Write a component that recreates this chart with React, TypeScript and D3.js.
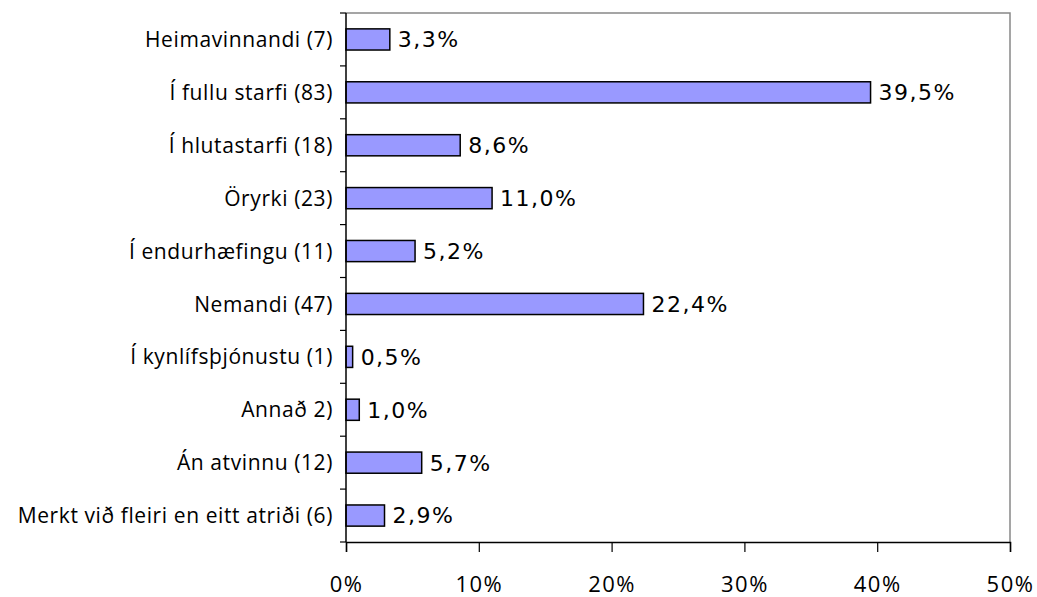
import React, { useEffect, useRef } from 'react'
import * as d3 from 'd3'

const categories = [
  'Heimavinnandi (7)',
  'Í fullu starfi (83)',
  'Í hlutastarfi (18)',
  'Öryrki (23)',
  'Í endurhæfingu (11)',
  'Nemandi (47)',
  'Í kynlífsþjónustu (1)',
  'Annað 2)',
  'Án atvinnu (12)',
  'Merkt við fleiri en eitt atriði (6)',
]
const percentages = [3.3, 39.5, 8.6, 11.0, 5.2, 22.4, 0.5, 1.0, 5.7, 2.9]
const xTicks = [0, 10, 20, 30, 40, 50]

const App: React.FC = () => {
  const svgRef = useRef<SVGSVGElement>(null)

  useEffect(() => {
    if (!svgRef.current) return
    const width = 1037
    const height = 597
    const margin = { top: 13, right: 27, bottom: 55, left: 346 }
    const chartWidth = width - margin.left - margin.right
    const chartHeight = height - margin.top - margin.bottom

    const svg = d3.select(svgRef.current).attr('width', width).attr('height', height)
    svg.selectAll('*').remove()

    const g = svg.append('g').attr('transform', `translate(${margin.left},${margin.top})`)

    const xScale = d3.scaleLinear().domain([0, 50]).range([0, chartWidth])
    const yScale = d3.scaleBand().domain(categories).range([0, chartHeight]).paddingInner(0.6).paddingOuter(0.3)

    // plot frame (top + right in gray)
    g.append('path')
      .attr('d', `M0,0H${chartWidth}V${chartHeight}`)
      .attr('fill', 'none')
      .attr('stroke', '#888')
      .attr('stroke-width', 1.5)

    // bars
    g.selectAll('rect.bar')
      .data(percentages)
      .enter()
      .append('rect')
      .attr('class', 'bar')
      .attr('x', 0)
      .attr('y', (_d, i) => yScale(categories[i]) || 0)
      .attr('width', (d) => xScale(d))
      .attr('height', yScale.bandwidth())
      .attr('fill', '#9999FF')
      .attr('stroke', '#000')
      .attr('stroke-width', 1.5)

    // value labels
    g.selectAll('text.val')
      .data(percentages)
      .enter()
      .append('text')
      .attr('class', 'val')
      .attr('x', (d) => xScale(d) + 8)
      .attr('y', (_d, i) => (yScale(categories[i]) || 0) + yScale.bandwidth() / 2)
      .attr('dy', '0.36em')
      .attr('font-family', 'DejaVu Sans, Verdana, sans-serif')
      .attr('font-size', '22px')
      .attr('letter-spacing', '1.5px')
      .attr('fill', '#000')
      .text((d) => `${d.toFixed(1).replace('.', ',')}%`)

    // y axis: ticks at band boundaries
    const step = chartHeight / categories.length
    const yAxis = g.append('g')
    yAxis
      .append('line')
      .attr('x1', 0)
      .attr('x2', 0)
      .attr('y1', 0)
      .attr('y2', chartHeight)
      .attr('stroke', '#000')
      .attr('stroke-width', 1.5)
    yAxis
      .selectAll('line.tick')
      .data(d3.range(categories.length + 1))
      .enter()
      .append('line')
      .attr('class', 'tick')
      .attr('x1', -6)
      .attr('x2', 0)
      .attr('y1', (i) => i * step)
      .attr('y2', (i) => i * step)
      .attr('stroke', '#000')
      .attr('stroke-width', 1.2)
    yAxis
      .selectAll('text')
      .data(categories)
      .enter()
      .append('text')
      .attr('x', -13)
      .attr('y', (d) => (yScale(d) || 0) + yScale.bandwidth() / 2)
      .attr('dy', '0.36em')
      .attr('text-anchor', 'end')
      .attr('font-family', 'Open Sans, sans-serif')
      .attr('font-size', '21px')
      .attr('letter-spacing', '0.6px')
      .attr('fill', '#000')
      .text((d) => d)

    // x axis
    const xAxis = d3
      .axisBottom(xScale)
      .tickValues(xTicks)
      .tickSize(10)
      .tickPadding(24)
      .tickFormat((d) => `${d}%`)
    const xg = g.append('g').attr('transform', `translate(0,${chartHeight})`).call(xAxis)
    xg.select('.domain').attr('stroke', '#000').attr('stroke-width', 1.5)
    xg.selectAll('.tick line').attr('stroke', '#000').attr('stroke-width', 1.2)
    xg.selectAll('.tick text')
      .attr('font-family', 'Open Sans, sans-serif')
      .attr('font-size', '22px')
      .attr('letter-spacing', '1.5px')
      .attr('fill', '#000')
  }, [])

  return (
    <div style={{ position: 'fixed', left: 0, top: 0, background: '#fff' }}>
      <svg ref={svgRef} style={{ display: 'block' }} />
    </div>
  )
}

export default App
